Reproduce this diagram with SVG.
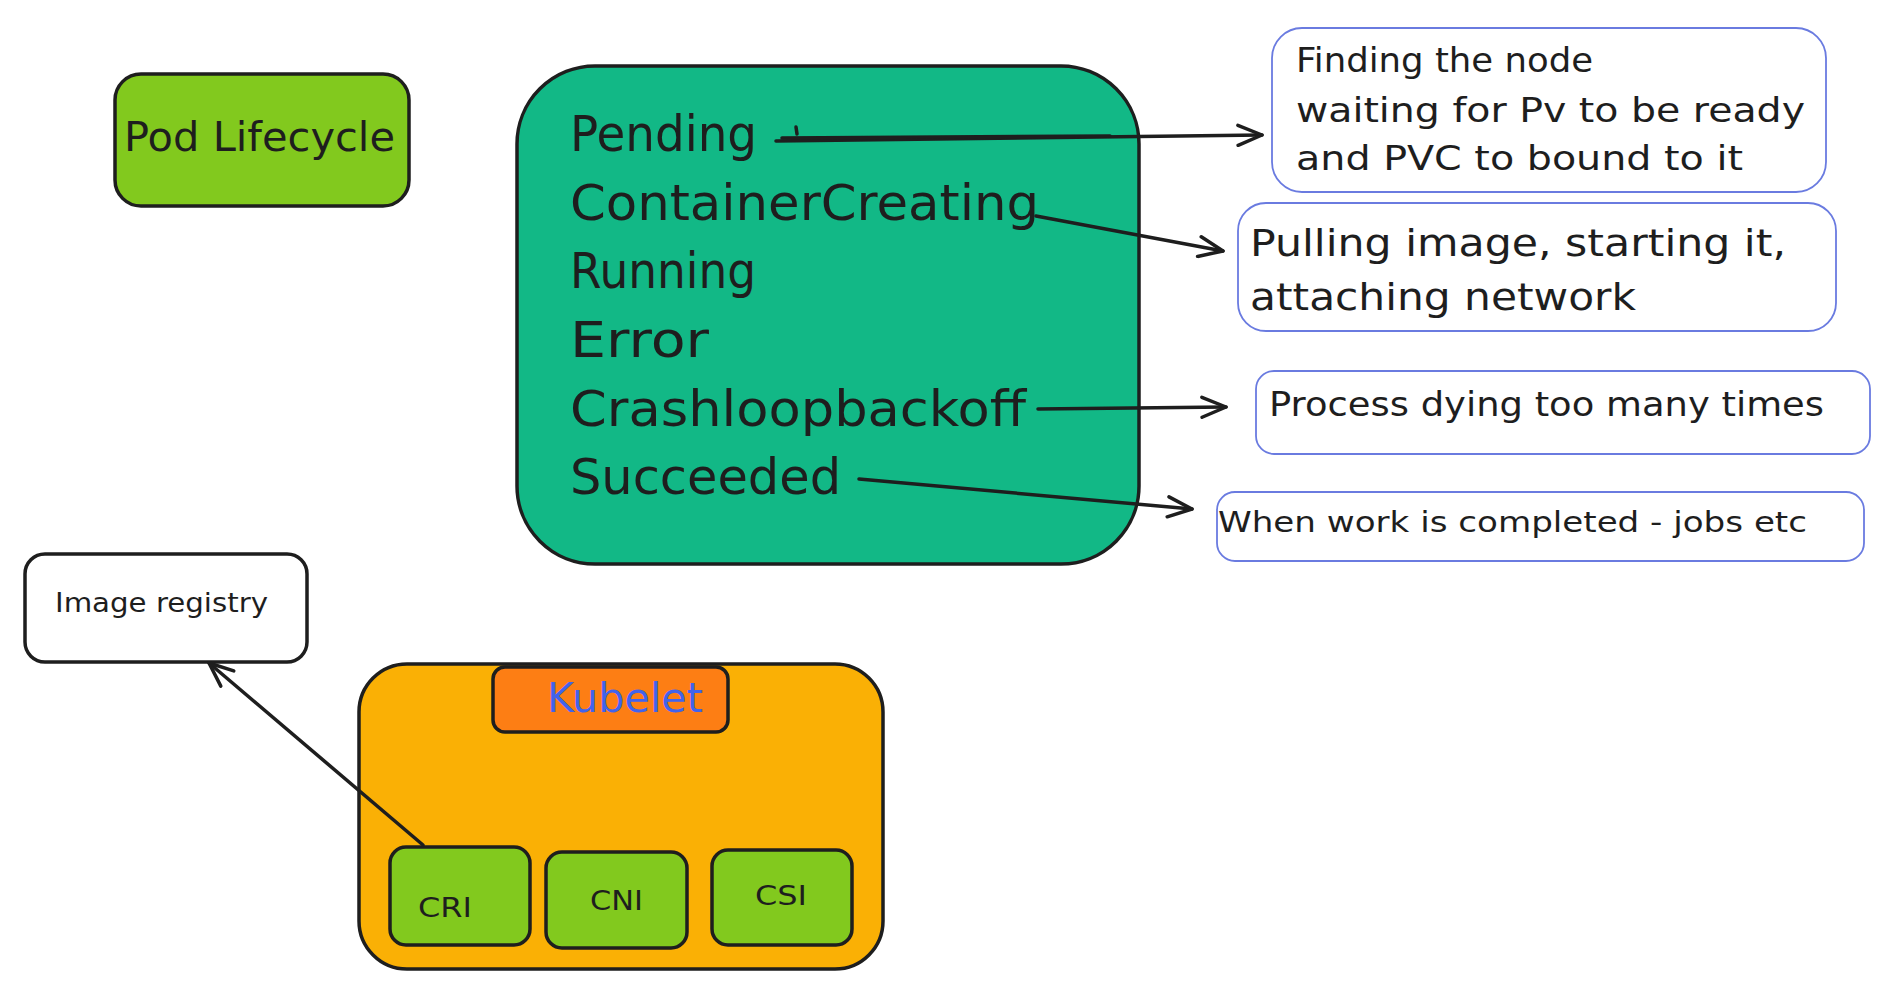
<svg xmlns="http://www.w3.org/2000/svg" width="1880" height="998" viewBox="0 0 1880 998">
<style>
.hw{font-family:"DejaVu Sans","Liberation Sans",sans-serif;fill:#1e1e1e}
.box{stroke:#1e1e1e;stroke-width:3.5}
.note{fill:#ffffff;stroke:#6a7be0;stroke-width:1.8}
.conn{fill:none;stroke:#1e1e1e;stroke-width:3.5;stroke-linecap:round}
.lime{fill:#82c91e}
</style>
<defs>
<marker id="arr" viewBox="0 0 30 24" refX="27" refY="12" markerWidth="30" markerHeight="24" orient="auto" markerUnits="userSpaceOnUse">
<path d="M3,2 L27,12 L3,22" fill="none" stroke="#1e1e1e" stroke-width="3.5" stroke-linecap="round" stroke-linejoin="round"/>
</marker>
</defs>
<rect width="1880" height="998" fill="#ffffff"/>

<g id="pod-lifecycle">
<rect class="box lime" x="115" y="74" width="294" height="132" rx="26"/>
<text class="hw" x="124" y="151" font-size="41" textLength="271" lengthAdjust="spacingAndGlyphs">Pod Lifecycle</text>
</g>

<g id="states">
<rect class="box" fill="#12b886" x="517" y="66" width="622" height="498" rx="78"/>
<g font-size="50">
<text class="hw" x="570" y="151" textLength="187" lengthAdjust="spacingAndGlyphs">Pending</text>
<text class="hw" x="570" y="220" textLength="469" lengthAdjust="spacingAndGlyphs">ContainerCreating</text>
<text class="hw" x="570" y="288" textLength="186" lengthAdjust="spacingAndGlyphs">Running</text>
<text class="hw" x="570" y="357" textLength="139" lengthAdjust="spacingAndGlyphs">Error</text>
<text class="hw" x="570" y="426" textLength="456" lengthAdjust="spacingAndGlyphs">Crashloopbackoff</text>
<text class="hw" x="570" y="494" textLength="271" lengthAdjust="spacingAndGlyphs">Succeeded</text>
</g>
</g>

<g id="pending-note">
<rect class="note" x="1272" y="28" width="554" height="164" rx="30"/>
<g font-size="33">
<text class="hw" x="1296" y="72" textLength="297" lengthAdjust="spacingAndGlyphs">Finding the node</text>
<text class="hw" x="1296" y="122" textLength="509" lengthAdjust="spacingAndGlyphs">waiting for Pv to be ready</text>
<text class="hw" x="1296" y="170" textLength="447" lengthAdjust="spacingAndGlyphs">and PVC to bound to it</text>
</g>
</g>

<g id="creating-note">
<rect class="note" x="1238" y="203" width="598" height="128" rx="28"/>
<g font-size="38">
<text class="hw" x="1250" y="256" textLength="536" lengthAdjust="spacingAndGlyphs">Pulling image, starting it,</text>
<text class="hw" x="1250" y="310" textLength="386" lengthAdjust="spacingAndGlyphs">attaching network</text>
</g>
</g>

<g id="crash-note">
<rect class="note" x="1256" y="371" width="614" height="83" rx="18"/>
<text class="hw" x="1269" y="416" font-size="34" textLength="555" lengthAdjust="spacingAndGlyphs">Process dying too many times</text>
</g>

<g id="succeeded-note">
<rect class="note" x="1217" y="492" width="647" height="69" rx="18"/>
<text class="hw" x="1218" y="532" font-size="29" textLength="589" lengthAdjust="spacingAndGlyphs">When work is completed - jobs etc</text>
</g>

<g id="image-registry">
<rect class="box" fill="#ffffff" stroke-width="3" x="25" y="554" width="282" height="108" rx="20"/>
<text class="hw" x="55" y="612" font-size="26" textLength="213" lengthAdjust="spacingAndGlyphs">Image registry</text>
</g>

<g id="kubelet-node">
<rect class="box" fill="#fab005" x="359" y="664" width="524" height="305" rx="48"/>
</g>

<g id="kubelet">
<rect class="box" fill="#fd7e14" stroke-width="3" x="493" y="667" width="235" height="65" rx="12"/>
<text x="547" y="712" font-size="41" font-family="DejaVu Sans, Liberation Sans, sans-serif" fill="#4263eb" textLength="156" lengthAdjust="spacingAndGlyphs">Kubelet</text>
</g>

<g id="cri">
<rect class="box lime" stroke-width="3" x="390" y="847" width="140" height="98" rx="16"/>
<text class="hw" x="418" y="917" font-size="26" textLength="54" lengthAdjust="spacingAndGlyphs">CRI</text>
</g>

<g id="cni">
<rect class="box lime" stroke-width="3" x="546" y="852" width="141" height="96" rx="16"/>
<text class="hw" x="590" y="910" font-size="26" textLength="53" lengthAdjust="spacingAndGlyphs">CNI</text>
</g>

<g id="csi">
<rect class="box lime" stroke-width="3" x="712" y="850" width="140" height="95" rx="16"/>
<text class="hw" x="755" y="905" font-size="26" textLength="52" lengthAdjust="spacingAndGlyphs">CSI</text>
</g>

<g id="connectors">
<path class="conn" d="M776,141 L1262,135" marker-end="url(#arr)"/>
<path class="conn" stroke-width="1.8" d="M782,138 L1110,136"/>
<path class="conn" stroke-width="2" d="M796,127 L797,134"/>
<path class="conn" d="M1036,216 L1223,251" marker-end="url(#arr)"/>
<path class="conn" d="M1038,409 L1226,407" marker-end="url(#arr)"/>
<path class="conn" d="M859,479 L1192,509" marker-end="url(#arr)"/>
<path class="conn" stroke-width="3" d="M423,845 L209,663" marker-end="url(#arr)"/>
</g>
</svg>
